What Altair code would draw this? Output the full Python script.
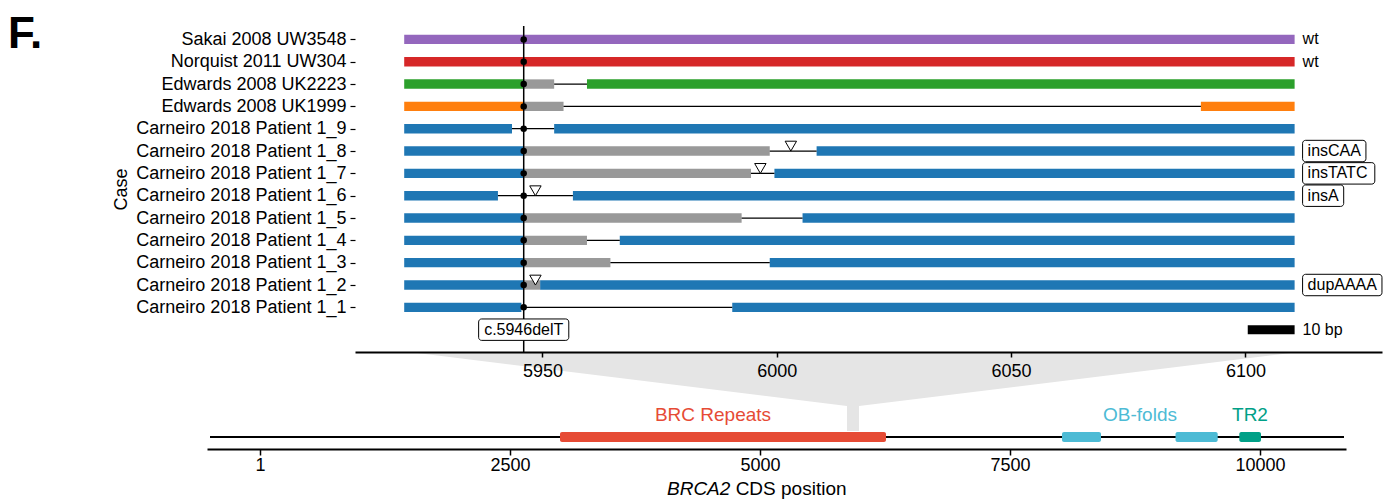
import json
import altair as alt
import pandas as pd

# ---------------- data ----------------
cases = [
    "Sakai 2008 UW3548",
    "Norquist 2011 UW304",
    "Edwards 2008 UK2223",
    "Edwards 2008 UK1999",
    "Carneiro 2018 Patient 1_9",
    "Carneiro 2018 Patient 1_8",
    "Carneiro 2018 Patient 1_7",
    "Carneiro 2018 Patient 1_6",
    "Carneiro 2018 Patient 1_5",
    "Carneiro 2018 Patient 1_4",
    "Carneiro 2018 Patient 1_3",
    "Carneiro 2018 Patient 1_2",
    "Carneiro 2018 Patient 1_1",
]
case_group = ["Sakai 2008", "Norquist 2011", "Edwards 2008 UK2223",
              "Edwards 2008 UK1999"] + ["Carneiro 2018"] * 9
group_names = ["Sakai 2008", "Norquist 2011", "Edwards 2008 UK2223",
               "Edwards 2008 UK1999", "Carneiro 2018", "retained"]
group_colors = ["#9467BD", "#D62728", "#2CA02C", "#FF7F0E", "#1F77B4", "#999999"]

# coloured (case) segments: case index, start, end (CDS position)
c_case = [0, 1, 2, 2, 3, 3, 4, 4, 5, 5, 6, 6, 7, 7, 8, 8, 9, 9, 10, 10, 11, 11, 12, 12]
c_start = [5920.5, 5920.5, 5920.5, 5959.5, 5920.5, 6090.5, 5920.5, 5952.5,
           5920.5, 6008.5, 5920.5, 5999.5, 5920.5, 5956.5, 5920.5, 6005.5,
           5920.5, 5966.5, 5920.5, 5998.5, 5920.5, 5949.5, 5920.5, 5990.5]
c_end = [6110.5, 6110.5, 5946, 6110.5, 5946, 6110.5, 5943.5, 6110.5,
         5946, 6110.5, 5946, 6110.5, 5940.5, 6110.5, 5946, 6110.5,
         5946, 6110.5, 5946, 6110.5, 5946, 6110.5, 5945.5, 6110.5]

# retained (grey) segments
g_case = [2, 3, 5, 6, 8, 9, 10, 11]
g_start = [5946, 5946, 5946, 5946, 5946, 5946, 5946, 5946]
g_end = [5952.5, 5954.5, 5998.5, 5994.5, 5992.5, 5959.5, 5964.5, 5949.5]

# deleted stretches (thin line)
l_case = [2, 3, 4, 5, 6, 7, 8, 9, 10, 12]
l_start = [5952.5, 5954.5, 5943.5, 5998.5, 5994.5, 5940.5, 5992.5, 5959.5, 5964.5, 5945.5]
l_end = [5959.5, 6090.5, 5952.5, 6008.5, 5999.5, 5956.5, 6005.5, 5966.5, 5998.5, 5990.5]

# insertions (triangles)
t_case = [5, 6, 7, 11]
t_pos = [6003, 5996.5, 5948.5, 5948.5]

# right-hand annotations
r_case = [0, 1, 5, 6, 7, 11]
r_text = ["wt", "wt", "insCAA", "insTATC", "insA", "dupAAAA"]
r_boxed = [False, False, True, True, True, True]

mutation_pos = 5946
mutation_label = "c.5946delT"
scale_bar_bp = 10
scale_bar_label = "10 bp"
top_ticks = [5950, 6000, 6050, 6100]
panel_label = "F."

# BRCA2 domains
dom_name = ["BRC Repeats", "OB-folds", "OB-folds", "TR2"]
dom_start = [3000, 8020, 9155, 9793]
dom_end = [6260, 8410, 9577, 10010]
dom_names = ["BRC Repeats", "OB-folds", "TR2"]
dom_label_pos = [4530, 8800, 9900]
dom_colors = ["#E64B35", "#4DBBD5", "#00A087"]
genome_line = [-500, 10840]
bottom_ticks = [1, 2500, 5000, 7500, 10000]
zoom_top = [5921.5, 6111.5]
zoom_stem = [5870, 5990]

# ---------------- layout constants ----------------
PLOT_W, PLOT_H = 1176, 423
PX_PER_BP = 1031 / 220
TOP_X_RANGE = [148, 1175]
TOP_X_DOMAIN = [5910, 5910 + (TOP_X_RANGE[1] - TOP_X_RANGE[0]) / PX_PER_BP]
TOP_Y_DOMAIN, TOP_Y_RANGE = [-1, 13.6], [326, 0]
BOT_X_DOMAIN, BOT_X_RANGE = [-530, 10860], [0, 1139]
BOT_Y_DOMAIN, BOT_Y_RANGE = [-1, 7.0833], [423, 326]
FONT = "Liberation Sans"

px_bot = (BOT_X_RANGE[1] - BOT_X_RANGE[0]) / (BOT_X_DOMAIN[1] - BOT_X_DOMAIN[0])

ARIAL = {"a": 556, "c": 500, "d": 556, "e": 556, "i": 222, "l": 222, "n": 556,
         "p": 556, "s": 500, "t": 278, "u": 556, "w": 722, "A": 667, "B": 667,
         "C": 722, "D": 722, "R": 722, "S": 667, "T": 611, ".": 278, " ": 278}


def text_w(s, fs):
    return sum(ARIAL.get(ch, 556) for ch in s) * fs / 1000.0


def top_to_bot(v):
    px = TOP_X_RANGE[0] + (v - TOP_X_DOMAIN[0]) * PX_PER_BP
    return BOT_X_DOMAIN[0] + (px - BOT_X_RANGE[0]) / px_bot


n = len(cases)
row_of = [n - i for i in range(n)]
HALF_BAR = 0.21
HALF_BOX = 0.48
LABEL_FS = 16
BOX_PAD = 5

seg_rows = []
for ci, s, e in zip(c_case, c_start, c_end):
    seg_rows.append(dict(start=s, end=e, y0=row_of[ci] - HALF_BAR,
                         y1=row_of[ci] + HALF_BAR, group=case_group[ci]))
for ci, s, e in zip(g_case, g_start, g_end):
    seg_rows.append(dict(start=s, end=e, y0=row_of[ci] - HALF_BAR,
                         y1=row_of[ci] + HALF_BAR, group="retained"))
seg_df = pd.DataFrame(seg_rows)

line_df = pd.DataFrame(dict(start=l_start, end=l_end, row=[row_of[c] for c in l_case]))
dot_df = pd.DataFrame(dict(pos=[mutation_pos] * n, row=row_of))
tri_df = pd.DataFrame(dict(pos=t_pos, y=[row_of[c] + 0.22 for c in t_case]))
vline_df = pd.DataFrame(dict(pos=[mutation_pos], top=[TOP_Y_DOMAIN[1]], bottom=[TOP_Y_DOMAIN[0]]))

mut_w = (text_w(mutation_label, LABEL_FS) + 2 * BOX_PAD + 1) / PX_PER_BP
mut_box_df = pd.DataFrame(dict(x0=[mutation_pos - mut_w / 2], x1=[mutation_pos + mut_w / 2],
                               y0=[-HALF_BOX], y1=[HALF_BOX]))
mut_txt_df = pd.DataFrame(dict(pos=[mutation_pos], row=[0], label=[mutation_label]))

anchor = max(c_end) + 1.7
r_df = pd.DataFrame(dict(pos=[anchor] * len(r_case), row=[row_of[c] for c in r_case],
                         label=r_text, boxed=r_boxed))
rb = r_df[r_df.boxed].copy()
rb["x0"] = anchor
rb["x1"] = [anchor + (text_w(t, LABEL_FS) + 2 * BOX_PAD) / PX_PER_BP for t in rb.label]
rb["y0"] = rb.row - HALF_BOX
rb["y1"] = rb.row + HALF_BOX
r_plain = r_df[~r_df.boxed]

sb_end = max(c_end)
sb_df = pd.DataFrame(dict(x0=[sb_end - scale_bar_bp], x1=[sb_end], y0=[-0.2], y1=[0.2]))
sb_txt_df = pd.DataFrame(dict(pos=[anchor], row=[0], label=[scale_bar_label]))

# ---------------- top panel ----------------
XS_TOP = alt.Scale(domain=TOP_X_DOMAIN, range=TOP_X_RANGE, nice=False, zero=False)
YS_TOP = alt.Scale(domain=TOP_Y_DOMAIN, range=TOP_Y_RANGE, nice=False, zero=False)

names_by_row = [""] + cases[::-1]
x_top_axis = alt.Axis(orient="bottom", offset=-97, values=top_ticks, format="d", title=None,
                      tickSize=5, tickWidth=1.5, domainWidth=1.8, labelPadding=5,
                      labelFontSize=18, grid=False, zindex=1, labelFlush=False)
y_top_axis = alt.Axis(orient="left", offset=-148, values=list(range(1, n + 1)),
                      labelExpr=json.dumps(names_by_row) + "[datum.value]",
                      title="Case", titleFontSize=18, titleFontWeight="normal",
                      titleX=-229, titleBaseline="alphabetic", titleAngle=270,
                      labelFontSize=18, labelLimit=400, tickSize=5,
                      tickWidth=1.2, labelPadding=4, domain=False, grid=False, zindex=1)


def tx(field, axis=None):
    return alt.X(field, scale=XS_TOP, axis=axis)


def ty(field, axis=None):
    return alt.Y(field, scale=YS_TOP, axis=axis)


bars = alt.Chart(seg_df).mark_rect().encode(
    x=tx("start:Q", x_top_axis), x2="end:Q",
    y=ty("y0:Q", y_top_axis), y2="y1:Q",
    color=alt.Color("group:N", scale=alt.Scale(domain=group_names, range=group_colors),
                    legend=None),
)
gaps = alt.Chart(line_df).mark_rule(color="black", strokeWidth=1.3).encode(
    x=tx("start:Q"), x2="end:Q", y=ty("row:Q"),
)
vline = alt.Chart(vline_df).mark_rule(color="black", strokeWidth=1.5).encode(
    x=tx("pos:Q"), y=ty("top:Q"), y2="bottom:Q",
)
mut_box = alt.Chart(mut_box_df).mark_rect(fill="white", stroke="black", strokeWidth=1,
                                          cornerRadius=3).encode(
    x=tx("x0:Q"), x2="x1:Q", y=ty("y0:Q"), y2="y1:Q",
)
mut_txt = alt.Chart(mut_txt_df).mark_text(fontSize=LABEL_FS, font=FONT, color="black",
                                          align="center", baseline="middle").encode(
    x=tx("pos:Q"), y=ty("row:Q"), text="label:N",
)
dots = alt.Chart(dot_df).mark_point(filled=True, size=42, color="black", opacity=1).encode(
    x=tx("pos:Q"), y=ty("row:Q"),
)
tris = alt.Chart(tri_df).mark_point(shape="triangle-down", size=130, filled=True, fill="white",
                                    stroke="black", strokeWidth=1, opacity=1).encode(
    x=tx("pos:Q"), y=ty("y:Q"),
)
r_boxes = alt.Chart(rb).mark_rect(fill="white", stroke="black", strokeWidth=1,
                                  cornerRadius=3).encode(
    x=tx("x0:Q"), x2="x1:Q", y=ty("y0:Q"), y2="y1:Q",
)
r_boxed_txt = alt.Chart(rb).mark_text(fontSize=LABEL_FS, font=FONT, color="black",
                                      align="left", baseline="middle", dx=BOX_PAD).encode(
    x=tx("pos:Q"), y=ty("row:Q"), text="label:N",
)
r_plain_txt = alt.Chart(r_plain).mark_text(fontSize=LABEL_FS, font=FONT, color="black",
                                           align="left", baseline="middle").encode(
    x=tx("pos:Q"), y=ty("row:Q"), text="label:N",
)
sbar = alt.Chart(sb_df).mark_rect(color="black").encode(
    x=tx("x0:Q"), x2="x1:Q", y=ty("y0:Q"), y2="y1:Q",
)
sbar_txt = alt.Chart(sb_txt_df).mark_text(fontSize=LABEL_FS, font=FONT, color="black",
                                          align="left", baseline="middle").encode(
    x=tx("pos:Q"), y=ty("row:Q"), text="label:N",
)
panel = alt.Chart(pd.DataFrame(dict(label=[panel_label]))).mark_text(
    fontSize=44, fontWeight="bold", font=FONT, color="black", align="left",
    baseline="alphabetic").encode(x=alt.value(-199), y=alt.value(22), text="label:N")

top_layers = [bars, gaps, vline, mut_box, mut_txt, dots, tris,
              r_boxes, r_boxed_txt, r_plain_txt, sbar, sbar_txt]

# ---------------- bottom panel ----------------
XS_BOT = alt.Scale(domain=BOT_X_DOMAIN, range=BOT_X_RANGE, nice=False, zero=False)
YS_BOT = alt.Scale(domain=BOT_Y_DOMAIN, range=BOT_Y_RANGE, nice=False, zero=False)


def bx(field, axis=None):
    return alt.X(field, scale=XS_BOT, axis=axis)


def by(field):
    return alt.Y(field, scale=YS_BOT, axis=None)


zoom_df = pd.DataFrame(dict(
    y=[0.5, 2.58, BOT_Y_DOMAIN[1]],
    x0=[zoom_stem[0], zoom_stem[0], top_to_bot(zoom_top[0])],
    x1=[zoom_stem[1], zoom_stem[1], top_to_bot(zoom_top[1])],
))
gline_df = pd.DataFrame(dict(x0=[genome_line[0]], x1=[genome_line[1]], y=[0]))
dom_df = pd.DataFrame(dict(name=dom_name, start=dom_start, end=dom_end,
                           y0=[-0.42] * len(dom_name), y1=[0.42] * len(dom_name)))
dl = pd.DataFrame(dict(name=dom_names, mid=dom_label_pos, y=[1.85] * len(dom_names)))
title_df = pd.DataFrame(dict(x=[(667 - 207) / px_bot + BOT_X_DOMAIN[0]], y=[-4.33]))

x_bot_axis = alt.Axis(orient="bottom", values=bottom_ticks, format="d", title=None,
                      tickSize=6, tickWidth=1.5, domainWidth=2, labelPadding=1,
                      labelFontSize=18, grid=False, zindex=1, labelFlush=False)

zoom_area = alt.Chart(zoom_df).mark_area(orient="horizontal", color="#E5E5E5", opacity=1).encode(
    x=bx("x0:Q", x_bot_axis), x2="x1:Q", y=by("y:Q"),
)
gline = alt.Chart(gline_df).mark_rule(color="black", strokeWidth=2).encode(
    x=bx("x0:Q"), x2="x1:Q", y=by("y:Q"),
)
doms = alt.Chart(dom_df).mark_rect(cornerRadius=2).encode(
    x=bx("start:Q"), x2="end:Q", y=by("y0:Q"), y2="y1:Q",
    color=alt.Color("name:N", scale=alt.Scale(domain=dom_names, range=dom_colors), legend=None),
)
dom_lbl = alt.Chart(dl).mark_text(fontSize=19, font=FONT, align="center", baseline="middle").encode(
    x=bx("mid:Q"), y=by("y:Q"), text="name:N",
    color=alt.Color("name:N", scale=alt.Scale(domain=dom_names, range=dom_colors), legend=None),
)
t_gene = alt.Chart(title_df).mark_text(text="BRCA2", fontSize=19, font=FONT, fontStyle="italic",
                                       align="left", baseline="middle", color="black").encode(
    x=bx("x:Q"), y=by("y:Q"),
)
t_rest = alt.Chart(title_df).mark_text(text="CDS position", fontSize=19, font=FONT,
                                       align="left", baseline="middle", color="black",
                                       dx=text_w("BRCA2 ", 19)).encode(
    x=bx("x:Q"), y=by("y:Q"),
)

bottom_layers = [zoom_area, gline, doms, dom_lbl, t_gene, t_rest]

chart = (
    alt.layer(*top_layers, *bottom_layers, panel)
    .resolve_scale(x="independent", y="independent", color="independent")
    .resolve_axis(x="independent", y="independent")
    .properties(
        width=PLOT_W, height=PLOT_H,
        padding={"left": 199, "top": 18, "right": 0, "bottom": 52},
        autosize=alt.AutoSizeParams(type="none"),
    )
    .configure_view(stroke=None)
    .configure_axis(labelColor="black", domainColor="black", tickColor="black",
                    titleColor="black", labelFont=FONT, titleFont=FONT)
)

chart.save("out.html", embed_options={"renderer": "svg", "actions": False})
